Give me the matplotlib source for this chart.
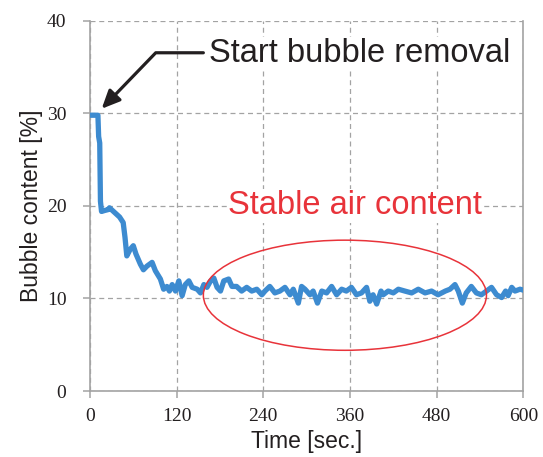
import matplotlib.pyplot as plt
from matplotlib.patches import Ellipse

# data
time_s = [0, 5, 11, 12, 13.5, 14.5, 16, 20, 25, 27, 34, 41, 46, 48.5, 51, 55.6, 60, 63.7,
          69.8, 74, 79, 86, 90.5, 97.5, 102, 106.6, 110, 113.8, 118.4, 123, 127.6, 132,
          136.9, 141.5, 148.5, 153, 157.7, 162, 167, 171.5, 176, 180.7, 185.3, 192, 196.6,
          203, 210, 217, 224, 231, 238, 242.3, 249, 256, 263, 270, 277, 281.5, 288.5, 293,
          297.7, 304.6, 309, 315, 321, 327.7, 334.6, 341.5, 348.5, 355, 362, 369, 376, 383,
          387.5, 392, 397, 403, 406, 413, 420, 427, 436, 445.4, 454.6, 464, 473, 482, 492,
          498.5, 505.4, 510, 515.6, 521, 528, 535, 542, 549, 556, 563, 570, 575.5, 579, 584,
          588.5, 595.5, 600]
bubble = [29.8, 29.8, 29.8, 27.5, 26.8, 20.5, 19.4, 19.5, 19.6, 19.8, 19.3, 18.8, 18.2, 16.6,
          14.6, 15.3, 15.7, 14.8, 13.7, 13.1, 13.5, 13.9, 13.0, 12.1, 11.0, 11.3, 10.8, 11.5,
          10.8, 11.9, 10.3, 11.5, 11.9, 11.2, 11.0, 10.6, 11.5, 11.2, 11.9, 12.2, 11.2, 10.8,
          11.9, 12.1, 11.3, 11.3, 10.8, 11.2, 10.8, 11.0, 10.4, 10.8, 11.3, 10.6, 10.8, 11.2,
          10.4, 11.0, 9.5, 11.3, 11.0, 10.4, 10.8, 9.5, 10.8, 10.6, 11.3, 10.4, 11.0, 10.8,
          11.2, 10.4, 10.6, 11.2, 9.7, 10.4, 9.4, 10.8, 10.4, 10.8, 10.6, 11.0, 10.8, 10.6,
          11.0, 10.6, 10.8, 10.4, 10.8, 11.0, 11.5, 10.8, 9.5, 10.6, 11.3, 10.6, 10.4, 10.8,
          11.2, 10.4, 10.1, 10.8, 10.3, 11.2, 10.8, 11.0, 10.9]

x_ticks = [0, 120, 240, 360, 480, 600]
y_ticks = [0, 10, 20, 30, 40]

gris = '#a3a3a3'
azul = '#3d8bd0'
rojo = '#e8333a'

fig = plt.figure(figsize=(5.43, 4.57), dpi=100)
ax = fig.add_axes([0.1657, 0.1444, 0.798, 0.810])

ax.plot(time_s, bubble, color=azul, lw=3.8, solid_joinstyle='round', zorder=4)

ax.set_xlim(0, 600)
ax.set_ylim(0, 40)
ax.set_xticks(x_ticks)
ax.set_yticks(y_ticks)
ax.grid(True, color=gris, ls=(0, (4, 3)), lw=0.9)
ax.set_axisbelow(True)

for lado in ['left', 'bottom', 'right']:
    ax.spines[lado].set_color(gris)
    ax.spines[lado].set_linewidth(1.2)
ax.spines['top'].set_visible(False)

ax.tick_params(direction='out', color=gris, length=5, width=1.1, labelsize=14)
ax.tick_params(axis='y', pad=12)
ax.tick_params(axis='x', pad=7)
for lab in ax.get_xticklabels() + ax.get_yticklabels():
    lab.set_family('Liberation Serif')
    lab.set_color('#231f20')

ax.set_xlabel('Time [sec.]', family='Liberation Sans', fontsize=16.5, color='#231f20', labelpad=4)
ax.set_ylabel('Bubble content [%]', family='Liberation Sans', fontsize=16.5, color='#231f20', labelpad=3)

caja = dict(facecolor='white', edgecolor='none', pad=1)
ax.text(374, 35.5, 'Start bubble removal', family='Liberation Sans', fontsize=23.5,
        color='#231f20', ha='center', va='baseline', bbox=caja, zorder=3)
ax.text(367, 19.1, 'Stable air content', family='Liberation Sans', fontsize=23.5,
        color=rojo, ha='center', va='baseline', bbox=caja, zorder=3)

ax.annotate('', xy=(16.2, 30.5), xytext=(157, 36.55),
            arrowprops=dict(arrowstyle='-|>,head_length=0.55,head_width=0.25',
                            connectionstyle='angle,angleA=0,angleB=46,rad=0',
                            color='#231f20', lw=2.3, mutation_scale=20,
                            shrinkA=0, shrinkB=0), zorder=5)

ax.add_patch(Ellipse((353, 10.35), 392, 11.9, fill=False, edgecolor=rojo, lw=1.1, zorder=5))

fig.savefig('out.png', dpi=100)
